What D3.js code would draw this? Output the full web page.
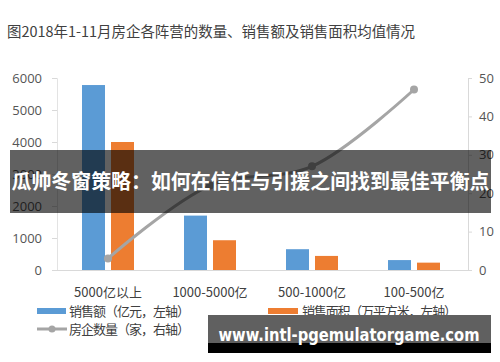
<!DOCTYPE html>
<html>
<head>
<meta charset="utf-8">
<script src="https://cdn.jsdelivr.net/npm/d3@7"></script>
<style>
  html, body { margin: 0; padding: 0; background: #fff; }
  svg { display: block; font-family: "Noto Sans CJK SC", "Noto Sans", sans-serif; }
</style>
</head>
<body>
<svg id="chart" width="500" height="362"></svg>
<script>
// Sales camps (categories along the x axis)
const categories = ["5000亿以上", "1000-5000亿", "500-1000亿", "100-500亿"];
// Average sales amount (亿元, left axis)
const salesAmount = [5780, 1700, 650, 310];
// Average sales area (万平方米, left axis)
const salesArea = [4000, 930, 440, 230];
// Number of developers (家, right axis)
const companyCount = [3, 22, 27, 47];
const leftTicks = [0, 1000, 2000, 3000, 4000, 5000, 6000];
const rightTicks = [0, 10, 20, 30, 40, 50];

const titleText = "图2018年1-11月房企各阵营的数量、销售额及销售面积均值情况";
const bannerText = "瓜帅冬窗策略：如何在信任与引援之间找到最佳平衡点";
const siteText = "www.intl-pgemulatorgame.com";
const legendLabels = ["销售额（亿元，左轴）", "销售面积（万平方米，左轴）", "房企数量（家，右轴）"];

const BLUE = "#5b9bd5", ORANGE = "#ed7d31", GREY = "#a5a5a5";
const svg = d3.select("#chart");

const plot = { left: 57, right: 468, top: 78, bottom: 270 };

const x = d3.scaleBand().domain(categories).range([plot.left, plot.left + 408]);
const yL = d3.scaleLinear().domain([0, 6000]).range([plot.bottom, plot.top]);
const yR = d3.scaleLinear().domain([0, 50]).range([plot.bottom, plot.top]);
const barW = 23, barGap = 6;

// Title
svg.append("text")
  .attr("x", 7).attr("y", 37)
  .attr("font-size", 14.3).attr("fill", "#404040")
  .attr("textLength", 408).attr("lengthAdjust", "spacingAndGlyphs")
  .text(titleText);

// Left axis
const axL = svg.append("g").attr("transform", `translate(${plot.left},0)`)
  .call(d3.axisLeft(yL).tickValues(leftTicks).tickSize(5).tickPadding(10).tickFormat(d3.format("d")));
axL.select(".domain").attr("stroke", "#e3e3e3");
axL.selectAll(".tick line").attr("stroke", "#d9d9d9");
axL.selectAll(".tick text").attr("font-size", 13).attr("fill", "#555")
  .attr("font-family", "'Open Sans', 'Noto Sans', sans-serif");

// Right axis
const axR = svg.append("g").attr("transform", `translate(${plot.right},0)`)
  .call(d3.axisRight(yR).tickValues(rightTicks).tickSize(4).tickPadding(7));
axR.select(".domain").attr("stroke", "#d9d9d9");
axR.selectAll(".tick line").attr("stroke", "#d9d9d9");
axR.selectAll(".tick text").attr("font-size", 13).attr("fill", "#555")
  .attr("font-family", "'Open Sans', 'Noto Sans', sans-serif");

// Baseline
svg.append("line")
  .attr("x1", plot.left - 2).attr("x2", plot.right)
  .attr("y1", yL(0) + 0.5).attr("y2", yL(0) + 0.5)
  .attr("stroke", "#d9d9d9");

// Category labels
svg.append("g").selectAll("text").data(categories).join("text")
  .attr("x", d => x(d) + x.bandwidth() / 2)
  .attr("y", 297)
  .attr("text-anchor", "middle")
  .attr("font-size", 13).attr("fill", "#404040")
  .text(d => d);

// Bars
const cx = d => x(d) + x.bandwidth() / 2;
svg.append("g").selectAll("rect").data(categories).join("rect")
  .attr("x", d => cx(d) - barGap / 2 - barW)
  .attr("width", barW)
  .attr("y", (d, i) => yL(salesAmount[i]))
  .attr("height", (d, i) => yL(0) - yL(salesAmount[i]))
  .attr("fill", BLUE);
svg.append("g").selectAll("rect").data(categories).join("rect")
  .attr("x", d => cx(d) + barGap / 2)
  .attr("width", barW)
  .attr("y", (d, i) => yL(salesArea[i]))
  .attr("height", (d, i) => yL(0) - yL(salesArea[i]))
  .attr("fill", ORANGE);

// Developer-count line (right axis)
const pts = categories.map((c, i) => [cx(c), yR(companyCount[i])]);
svg.append("path")
  .attr("d", d3.line().curve(d3.curveCatmullRom.alpha(0.5))(pts))
  .attr("fill", "none").attr("stroke", GREY).attr("stroke-width", 3);
svg.append("g").selectAll("circle").data(pts).join("circle")
  .attr("cx", d => d[0]).attr("cy", d => d[1]).attr("r", 4)
  .attr("fill", GREY);

// Legend
const lg = svg.append("g").attr("font-size", 13).attr("fill", "#404040");
lg.append("rect").attr("x", 37).attr("y", 308).attr("width", 29).attr("height", 6).attr("fill", BLUE);
lg.append("text").attr("x", 69).attr("y", 316)
  .attr("textLength", 121).attr("lengthAdjust", "spacing").text(legendLabels[0]);
lg.append("rect").attr("x", 268).attr("y", 308).attr("width", 30).attr("height", 6).attr("fill", ORANGE);
lg.append("text").attr("x", 302).attr("y", 316)
  .attr("textLength", 155).attr("lengthAdjust", "spacing").text(legendLabels[1]);
lg.append("line").attr("x1", 37).attr("x2", 67).attr("y1", 329).attr("y2", 329)
  .attr("stroke", GREY).attr("stroke-width", 3);
lg.append("circle").attr("cx", 52).attr("cy", 329).attr("r", 3.5).attr("fill", GREY);
lg.append("text").attr("x", 69).attr("y", 334)
  .attr("textLength", 121).attr("lengthAdjust", "spacing").text(legendLabels[2]);

// Headline banner across the chart
svg.append("rect").attr("x", 10).attr("y", 150).attr("width", 481).attr("height", 63)
  .attr("fill", "#000").attr("fill-opacity", 0.62);
svg.append("text")
  .attr("x", 250.5).attr("y", 189)
  .attr("text-anchor", "middle")
  .attr("font-size", 20).attr("font-weight", "bold").attr("fill", "#fff")
  .attr("textLength", 478).attr("lengthAdjust", "spacingAndGlyphs")
  .text(bannerText);

// Site watermark
svg.append("rect").attr("x", 208).attr("y", 315).attr("width", 283).attr("height", 29).attr("fill", "#606060");
svg.append("rect").attr("x", 208).attr("y", 343).attr("width", 283).attr("height", 10).attr("fill", "#000");
svg.append("text")
  .attr("x", 349).attr("y", 341)
  .attr("text-anchor", "middle")
  .attr("font-family", "'DejaVu Sans', sans-serif")
  .attr("font-size", 18).attr("font-weight", "bold").attr("fill", "#fff")
  .attr("textLength", 261).attr("lengthAdjust", "spacingAndGlyphs")
  .text(siteText);
</script>
</body>
</html>
